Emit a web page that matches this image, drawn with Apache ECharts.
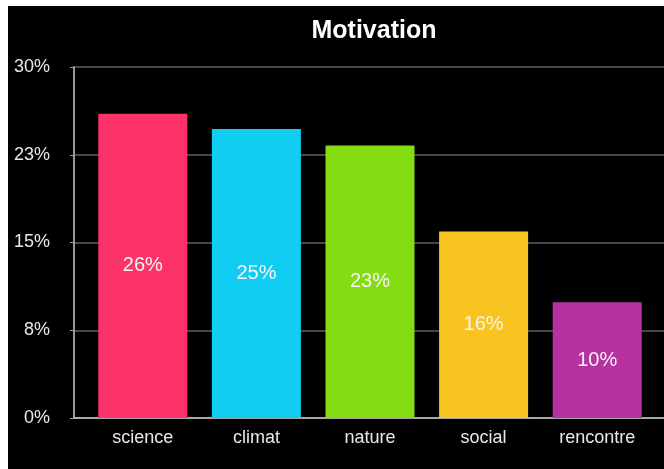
<!DOCTYPE html>
<html>
<head>
<meta charset="utf-8">
<script src="https://cdn.jsdelivr.net/npm/echarts@6/dist/echarts.min.js"></script>
<style>
  html, body { margin: 0; padding: 0; background: #ffffff; }
  #chart { position: absolute; left: 8px; top: 6px; width: 656px; height: 463px; background: #000000; }
</style>
</head>
<body>
<div id="chart"></div>
<script>
const categories = ['science', 'climat', 'nature', 'social', 'rencontre'];
const values = [26.0, 24.7, 23.3, 15.95, 9.9];
const barColors = ['#fd3269', '#11cdf1', '#84dc12', '#f9c41f', '#b5329f'];
const yTicks = { min: 0, max: 30, interval: 7.5 };

const chart = echarts.init(document.getElementById('chart'));
const font = '"Liberation Sans", Arial, sans-serif';
chart.setOption({
  backgroundColor: '#000000',
  animation: false,
  title: {
    text: 'Motivation',
    left: 361, top: 8, textAlign: 'center',
    textStyle: { color: '#ffffff', fontSize: 25, fontWeight: 'bold', fontFamily: font }
  },
  grid: [
    { left: 66, right: 0, top: 61, bottom: 51 },
    { left: 78, right: 10, top: 61, bottom: 51 }
  ],
  xAxis: [
    { gridIndex: 0, type: 'value', min: 0, max: 1,
      axisLine: { show: true, onZero: false, lineStyle: { color: '#c8c8c8', width: 1.5 } },
      axisTick: { show: false }, axisLabel: { show: false }, splitLine: { show: false } },
    { gridIndex: 1, type: 'category', data: categories,
      axisLine: { show: false }, axisTick: { show: false },
      axisLabel: { color: '#e8e8e8', fontSize: 18, fontFamily: font, margin: 11 } }
  ],
  yAxis: [
    { gridIndex: 0, type: 'value', min: yTicks.min, max: yTicks.max, interval: yTicks.interval,
      axisLine: { show: true, lineStyle: { color: '#c8c8c8', width: 1.5 } },
      axisTick: { show: true, length: 4, lineStyle: { color: '#9a9a9a' } },
      axisLabel: { color: '#e8e8e8', fontSize: 18, fontFamily: font, margin: 24,
        formatter: v => Math.round(v) + '%' },
      splitLine: { show: true, lineStyle: { color: '#5e5e5e', width: 1.5 } } },
    { gridIndex: 1, type: 'value', min: yTicks.min, max: yTicks.max, interval: yTicks.interval,
      show: false, splitLine: { show: false } }
  ],
  series: [{
    type: 'bar',
    xAxisIndex: 1, yAxisIndex: 1,
    barWidth: 89,
    data: values.map((v, i) => ({ value: v, itemStyle: { color: barColors[i] } })),
    label: {
      show: true, position: 'inside', color: '#f4f4f4', fontSize: 20, fontFamily: font,
      formatter: p => Math.round(p.value) + '%'
    }
  }]
});
</script>
</body>
</html>
